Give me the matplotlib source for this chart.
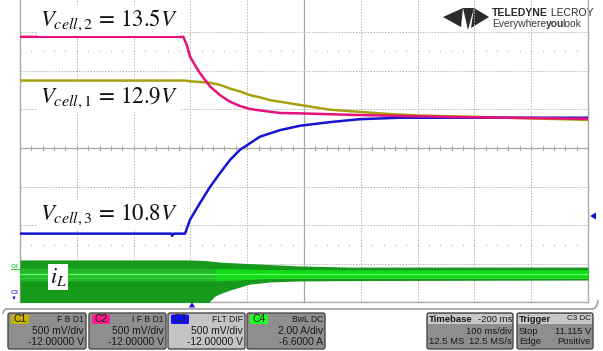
import numpy as np
import matplotlib.pyplot as plt
from matplotlib.patches import FancyBboxPatch, Polygon, Rectangle

plt.rcParams['mathtext.fontset'] = 'stix'
plt.rcParams['font.family'] = ['Liberation Sans', 'DejaVu Sans']

W, H = 603, 351

# time in ms (100 ms/div, trigger at 0)
t_c1 = [-300, -9.5, -0.7, 34.5, 52.1, 69.7, 87.3, 104.9, 122.5, 140.2, 157.8, 193, 245.8, 298.6, 351.4, 404.2, 509.9, 700]
v_c1 = [12.9, 12.9, 12.89, 12.87, 12.84, 12.79, 12.75, 12.70, 12.67, 12.63, 12.61, 12.565, 12.50, 12.47, 12.44, 12.42, 12.40, 12.36]

t_c2 = [-300, -12.5, -6.5, -0.7, 8.1, 16.9, 34.5, 52.1, 69.7, 87.3, 104.9, 122.5, 157.8, 193, 281, 457, 700]
v_c2 = [13.5, 13.5, 13.39, 13.23, 13.11, 13.0, 12.82, 12.70, 12.61, 12.55, 12.51, 12.49, 12.455, 12.45, 12.43, 12.40, 12.375]

t_c3 = [-300, -34, -32, -30, -9.5, -0.7, 16.9, 34.5, 52.1, 69.7, 87.3, 104.9, 122.5, 157.8, 193, 245.8, 298.6, 369, 700]
v_c3 = [10.8, 10.8, 10.77, 10.8, 10.8, 10.99, 11.22, 11.44, 11.63, 11.81, 11.95, 12.04, 12.13, 12.22, 12.28, 12.33, 12.37, 12.39, 12.39]

# inductor current ripple envelope (A)
t_il = [-300, -0.7, 25.7, 43.3, 52.1, 69.7, 104.9, 122.5, 140.2, 193, 281, 700]
il_hi = [0.80, 0.80, 0.77, 0.72, 0.69, 0.66, 0.61, 0.59, 0.56, 0.49, 0.43, 0.43]
il_lo = [-1.6, -1.6, -1.6, -1.07, -0.95, -0.76, -0.45, -0.40, -0.34, -0.29, -0.27, -0.24]
il_core_hi = [0.38, 0.38, 0.37, 0.36, 0.35, 0.34, 0.32, 0.31, 0.30, 0.29, 0.28, 0.28]
il_core_lo = [-0.29, -0.29, -0.29, -0.28, -0.27, -0.25, -0.20, -0.18, -0.16, -0.14, -0.13, -0.13]
il_mid = 0.07

labels = [r'$V_{cell,2}\,=\,13.5V$', r'$V_{cell,1}\,=\,12.9V$', r'$V_{cell,3}\,=\,10.8V$']
label_v = [13.72, 12.67, 11.06]

channels = [
    ('C1', '#c8b400', 'F B D1', '500 mV/div', '-12.00000 V', 8, 86),
    ('C2', '#ff1e8c', 'I F B D1', '500 mV/div', '-12.00000 V', 89, 166),
    ('C3', '#1010ff', 'FLT DIF', '500 mV/div', '-12.00000 V', 168, 245),
    ('C4', '#20ff20', 'BwL DC', '2.00 A/div', '-6.6000 A', 247, 325),
]

fig = plt.figure(figsize=(W / 100, H / 100), dpi=100)
fig.patch.set_facecolor('white')

# pixel-space layer for the scope chrome
ov = fig.add_axes([0, 0, 1, 1], zorder=0)
ov.set_xlim(0, W)
ov.set_ylim(H, 0)
ov.axis('off')

x0, x1, ybot = 20, 588, 302
ax = fig.add_axes([x0 / W, (H - ybot) / H, (x1 - x0) / W, ybot / H], zorder=2)
ax.set_xlim(-300, 700)
ax.set_ylim(9.862, 14.005)
ax.set_xticks([])
ax.set_yticks([])
ax.patch.set_alpha(0)
ax.spines['top'].set_visible(False)
for s in ['left', 'right', 'bottom']:
    ax.spines[s].set_color('#a8a8a8')
    ax.spines[s].set_linewidth(1.0)

grid_kw = dict(color='#b4b4b4', lw=0.7, ls=(0, (1.5, 1.5)), zorder=0)
for k in range(1, 10):
    t = -300 + 100 * k
    if t != 200:
        ax.axvline(t, **grid_kw)

div_h = 38.6 / ybot
f_c = (ybot - 148) / ybot
for k in range(-3, 4):
    if k != 0:
        ax.plot([0, 1], [f_c + k * div_h] * 2, transform=ax.transAxes, **grid_kw)

# center cross with minor ticks
ax.axvline(200, color='#a8a8a8', lw=0.9, zorder=0)
ax.plot([0, 1], [f_c, f_c], transform=ax.transAxes, color='#a8a8a8', lw=0.9, zorder=0)
tick_t = np.arange(-300, 701, 20)
dy = 2.2 / ybot
for t in tick_t:
    ax.plot([t, t], [f_c - dy, f_c + dy], transform=ax.get_xaxis_transform(),
            color='#a8a8a8', lw=0.8, zorder=0)
dx = 3.8
for k in range(-20, 21):
    f = f_c + k * div_h / 5
    if 0 < f < 1:
        ax.plot([200 - dx, 200 + dx], [f, f], transform=ax.get_yaxis_transform(),
                color='#a8a8a8', lw=0.8, zorder=0)
for f in (f_c + 2.5 * div_h, f_c - 2.5 * div_h):
    ax.plot(tick_t, [f] * len(tick_t), transform=ax.get_xaxis_transform(),
            ls='none', marker='s', ms=0.9, mec='none', mfc='#b8b8b8', zorder=0)

# current on its own scale (2 A/div, offset -6.6 A)
ax2 = ax.twinx()
ax2.set_ylim(6.6 - 154 / 19.3, 6.6 + 148 / 19.3)
ax2.set_yticks([])
for s in ax2.spines.values():
    s.set_visible(False)
ax2.fill_between(t_il, il_lo, il_hi, color='#169a1c', lw=0, zorder=2)
ax2.fill_between(t_il, il_core_lo, il_core_hi, color='#22b82a', lw=0, zorder=3)
core_t = np.array(t_il)
mask = core_t >= 43
ax2.fill_between(core_t[mask], np.array(il_core_lo)[mask], np.array(il_core_hi)[mask],
                 color='#0fdc12', lw=0, zorder=3)
ax2.plot([-300, 700], [il_mid, il_mid], color='#5cff5c', lw=1.0, zorder=4)
ax2.plot([-300, 700], [il_mid - 0.2, il_mid - 0.2], color='#3ad83e', lw=0.6, zorder=4)
ax2.text(-233, -0.08, r'$i_L$', fontsize=16, ha='center', va='center', color='#111111',
         bbox=dict(facecolor='white', edgecolor='none', pad=1.5), zorder=6)

# cell voltages
ax.plot(t_c1, v_c1, color='#a8a010', lw=1.8, zorder=5)
ax.plot(t_c3, v_c3, color='#1414d2', lw=1.8, zorder=5)
ax.plot(t_c2, v_c2, color='#e6127a', lw=1.8, zorder=6)

for txt, v in zip(labels, label_v):
    ax.text(-265, v, txt, fontsize=16.5, ha='left', va='center', color='#111111',
            bbox=dict(facecolor='white', edgecolor='none', pad=1.5), zorder=7)

# logo
logo_col = '#2b2b2b'
ov.add_patch(Polygon([(443, 17), (463, 8), (461, 27)], closed=True, color=logo_col, lw=0))
ov.add_patch(Polygon([(463, 8), (474, 8), (468, 30)], closed=True, color=logo_col, lw=0))
ov.add_patch(Polygon([(474, 8), (489, 17), (471, 28)], closed=True, color=logo_col, lw=0))


def text_run(x, y, parts):
    # lay out text pieces one after another on the same baseline
    renderer = fig.canvas.get_renderer()
    inv = ov.transData.inverted()
    for s, kern, kw in parts:
        t = ov.text(x + kern, y, s, ha='left', va='baseline', **kw)
        bb = t.get_window_extent(renderer=renderer)
        x = inv.transform((bb.x1, bb.y0))[0]


text_run(492, 16.5, [('TELEDYNE', 0, dict(fontsize=7.5, fontweight='bold', color=logo_col)),
                     (' LECROY', 0, dict(fontsize=7.5, color=logo_col))])
text_run(492, 27, [('Everywhere', 0, dict(fontsize=7.4, color='#3a3a3a')),
                   ('you', -0.5, dict(fontsize=7.4, fontweight='bold', color='#3a3a3a')),
                   ('look', -1.5, dict(fontsize=7.4, color='#3a3a3a'))])

# trace markers around the grid
ov.text(15, 266, 'C4', fontsize=4.5, color='#30d030', ha='center', va='center', fontweight='bold')
ov.plot([11, 20], [268.5, 268.5], color='#30d030', lw=0.8)
ov.text(15, 293, 'C3', fontsize=4.5, color='#5050d0', ha='center', va='center', fontweight='bold')
ov.annotate('', xy=(14, 300), xytext=(14, 295),
            arrowprops=dict(arrowstyle='-|>', color='#3030c0', lw=0.6, mutation_scale=4))
ov.add_patch(Polygon([(189, 307.5), (195, 307.5), (192, 302)], closed=True, color='#1010e0', lw=0))
ov.add_patch(Polygon([(596, 212.5), (596, 219.5), (590, 216)], closed=True, color='#1010e0', lw=0))

# frame under the grid
ov.plot([6, 592], [309, 309], color='#a0a0a0', lw=1.2)
ov.plot([592, 595, 597, 598], [309, 308, 305, 301], color='#a0a0a0', lw=1.2)
ov.plot([6, 4, 3], [309, 310.5, 313], color='#a0a0a0', lw=1.2)

# channel descriptor boxes
box_top, box_bot = 313, 349
txt_col = '#1a1a1a'
for name, col, hdr, l2, l3, bx0, bx1 in channels:
    face = '#c4c4c4' if name == 'C3' else '#8e8e8e'
    ov.add_patch(FancyBboxPatch((bx0, box_top), bx1 - bx0, box_bot - box_top,
                                boxstyle='round,pad=0,rounding_size=2',
                                fc=face, ec='#4a4a4a', lw=1.0))
    ov.add_patch(FancyBboxPatch((bx0 + 3, box_top + 1.5), 18, 9.5,
                                boxstyle='round,pad=0,rounding_size=1.5',
                                fc=col, ec='none'))
    ov.text(bx0 + 12, box_top + 6.5, name, fontsize=7.5, ha='center', va='center', color=txt_col)
    ov.text(bx1 - 2, box_top + 6.5, hdr, fontsize=6.2, ha='right', va='center', color=txt_col)
    ov.text(bx1 - 2, box_top + 18, l2, fontsize=7.4, ha='right', va='center', color=txt_col)
    ov.text(bx1 - 2, box_top + 29, l3, fontsize=7.4, ha='right', va='center', color=txt_col)

for bx0, bx1 in [(427, 513), (517, 593)]:
    ov.add_patch(FancyBboxPatch((bx0, box_top), bx1 - bx0, box_bot - box_top,
                                boxstyle='round,pad=0,rounding_size=2',
                                fc='#8e8e8e', ec='#4a4a4a', lw=1.0))
    ov.add_patch(Rectangle((bx0 + 1, box_top + 1), bx1 - bx0 - 2, 10, fc='#c8c8c8', ec='none'))

small = dict(fontsize=6.8, va='center', color=txt_col)
ov.text(429, 319, 'Timebase', fontsize=6.8, fontweight='bold', ha='left', va='center', color=txt_col)
ov.text(512, 319, '-200 ms', ha='right', **small)
ov.text(512, 331, '100 ms/div', ha='right', **small)
ov.text(429, 342, '12.5 MS', ha='left', **small)
ov.text(512, 342, '12.5 MS/s', ha='right', **small)
ov.text(519, 319, 'Trigger', fontsize=6.8, fontweight='bold', ha='left', va='center', color=txt_col)
ov.text(591, 319, 'C3 DC', fontsize=5.8, ha='right', va='center', color=txt_col)
ov.text(519, 331, 'Stop', ha='left', **small)
ov.text(591, 331, '11.115 V', ha='right', **small)
ov.text(519, 342, 'Edge', ha='left', **small)
ov.text(591, 342, 'Positive', ha='right', **small)

fig.savefig('out.png', dpi=100, facecolor='white')
